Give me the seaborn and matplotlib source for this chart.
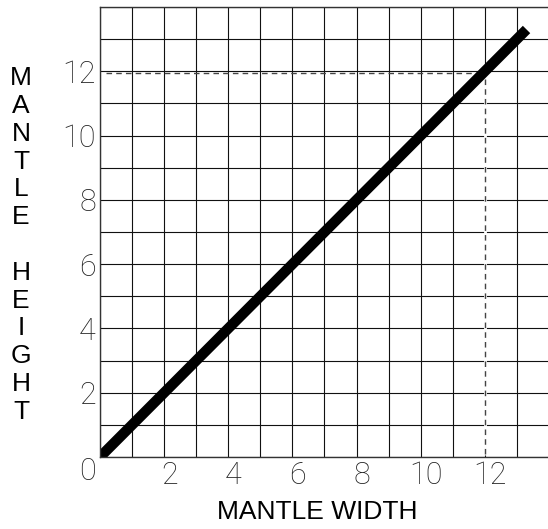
import seaborn as sns
import matplotlib.pyplot as plt
import pandas as pd
from matplotlib import font_manager
from matplotlib.ticker import MultipleLocator
from matplotlib.transforms import ScaledTranslation

# mantle width vs height (1:1)
mantle_width = [0, 13.3]
mantle_height = [0, 13.3]
read_width = 12
read_height = 11.96
tick_values = [0, 2, 4, 6, 8, 10, 12]

sns.set_style("white")
plt.rcParams.update({'font.family': ['Liberation Sans', 'DejaVu Sans']})

# thin font for the tick numbers, if one is installed
thin = None
for fam in ['Roboto', 'Lato', 'Open Sans', 'Noto Sans', 'DejaVu Sans']:
    ws = [f.weight for f in font_manager.fontManager.ttflist
          if f.name == fam and isinstance(f.weight, int) and f.weight < 400]
    if ws:
        thin = (fam, min(ws))
        break
if thin is None:
    thin = ('DejaVu Sans', 'normal')

df = pd.DataFrame({'width': mantle_width, 'height': mantle_height})

fig = plt.figure(figsize=(5.48, 5.29), dpi=100)
ax = fig.add_axes([0.1825, 0.1361, 0.8193, 0.8507])

ax.set_xlim(0, 14)
ax.set_ylim(0, 14)
ax.xaxis.set_minor_locator(MultipleLocator(1))
ax.yaxis.set_minor_locator(MultipleLocator(1))
ax.set_xticks(tick_values)
ax.set_yticks(tick_values)
ax.grid(which='both', color='#111111', linewidth=0.8)
ax.set_axisbelow(True)

# dashed read-off lines (the vertical one replaces the grid line below it)
ax.vlines(read_width, 0.05, read_height, colors='white', linewidth=2)
ax.hlines(read_height, 0.2, read_width, colors='#444444', linestyles=(0, (4, 3)), linewidth=1)
ax.vlines(read_width, 0.1, read_height, colors='#444444', linestyles=(0, (4, 3)), linewidth=1)

sns.lineplot(data=df, x='width', y='height', color='black', linewidth=7.5, ax=ax,
             solid_capstyle='butt')

ax.tick_params(which='both', length=0, labelsize=22, colors='#222222', pad=3)
ax.set_xticklabels([''] + [str(v) for v in tick_values[1:]])
for lab in ax.get_xticklabels() + ax.get_yticklabels():
    lab.set_family(thin[0])
    lab.set_weight(thin[1])
for lab in ax.get_xticklabels():
    lab.set_transform(lab.get_transform() + ScaledTranslation(5 / 100, 0, fig.dpi_scale_trans))
ax.get_yticklabels()[0].set_va('top')

for s in ['left', 'bottom', 'top']:
    ax.spines[s].set_color('#333333')
    ax.spines[s].set_linewidth(1)
ax.spines['right'].set_visible(False)

ax.set_xlabel('MANTLE WIDTH', fontsize=19, color='black')
ax.xaxis.set_label_coords(0.483, -0.122)
ax.xaxis.label.set_va('center')
ax.set_ylabel('M\nA\nN\nT\nL\nE\n\nH\nE\nI\nG\nH\nT', fontsize=19, rotation=0,
              color='black', linespacing=1.2, ha='center', va='center')
ax.yaxis.set_label_coords(-0.176, 0.471)

plt.savefig('out.png', dpi=100)
